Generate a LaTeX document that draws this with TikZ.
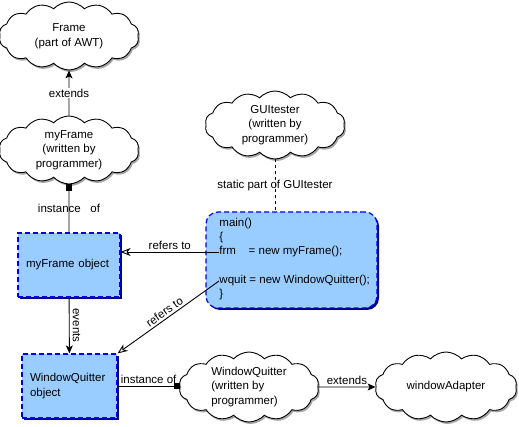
\documentclass[tikz,border=0pt]{standalone}
\usepackage{fontspec}
\setmainfont{Liberation Sans}
\usetikzlibrary{arrows.meta, positioning, shapes.symbols, shadows}
\definecolor{boxblue}{RGB}{153,204,255}
\definecolor{edgeblue}{RGB}{0,0,235}
\definecolor{shadeblue}{RGB}{0,0,128}

\begin{document}
\begin{tikzpicture}[
    x=1pt, y=-1pt,
    line width=0.9pt,
    font=\fontsize{11.5}{14.5}\selectfont,
    classcloud/.style={cloud, cloud puffs=14, cloud puff arc=95, aspect=2, draw, fill=white, minimum width=140pt, minimum height=68pt, inner sep=0pt, align=center, drop shadow={shadow xshift=1.5pt, shadow yshift=-2pt, fill=gray!70, opacity=1}},
    objbox/.style={rectangle, draw=edgeblue, line width=1.2pt, dash pattern=on 5pt off 3pt, fill=boxblue, minimum height=64pt, inner sep=8pt, align=left, drop shadow={shadow xshift=2pt, shadow yshift=-2pt, fill=shadeblue, opacity=1}},
    codeline/.style={anchor=west, inner sep=0pt},
    arrow/.style={-{Stealth[length=8pt, width=7pt, inset=2pt]}},
    refarrow/.style={-{Stealth[open, length=10pt, width=8pt, inset=3pt]}},
]
\useasboundingbox (0,0) rectangle (519,427);

% Clouds
\node[classcloud] (frame) at (69,36) {Frame\\(part of AWT)};
\node[classcloud] (myframe) at (69,150) {myFrame\\(written by\\programmer)};
\node[classcloud] (guitester) at (275,125) {GUItester\\(written by\\programmer)};
\node[classcloud, minimum height=70pt, align=left] (wqcloud) at (249,387) {WindowQuitter\\(written by\\programmer)};
\node[classcloud, minimum width=142pt, minimum height=70pt] (adapter) at (446,387) {windowAdapter};

% Object boxes
\node[objbox, text width=86pt] (myobj) at (69,265) {myFrame object};
\node[objbox, text width=79pt] (wqobj) at (69.5,386) {WindowQuitter\\object};

% main() box
\node[objbox, rounded corners=12pt, minimum width=171pt, minimum height=96pt] (mainbox) at (291.5,260) {};
\node[codeline] (mainline) at (219,224) {main()};
\node[codeline] (brace1) at (219,238) {\{};
\node[codeline] (frmline) at (219,252) {frm\hspace{1.1em}= new myFrame();};
\node[codeline] (wquitline) at (219,281) {wquit = new WindowQuitter();};
\node[codeline] (brace2) at (219,295) {\}};

% Arrows
\draw[arrow] (myframe) -- node[fill=white, inner sep=1pt] {extends} (frame);
\draw[{Square[length=6pt, width=6pt]}-] (myframe) -- node {instance\ \ \ of} (myobj);
\draw[arrow] (myobj) -- node[rotate=-90, anchor=south, inner sep=3pt] {events} (wqobj);
\draw[dashed] (guitester.south) -- node {static part of GUItester} (guitester.south |- mainbox.north);
\draw[refarrow] (frmline.west) -- node[above, inner sep=2pt] {refers to} (frmline.west -| myobj.east);
\draw[refarrow] (wquitline.west) -- node[sloped, above, inner sep=2pt] {refers to} (wqobj.north east);
\draw[-{Square[length=6pt, width=6pt]}] (wqobj.east) -- node[above, inner sep=2pt] {instance of} (wqobj.east -| wqcloud.west);
\draw[arrow] (wqcloud) -- node[above, inner sep=2pt] {extends} (adapter);

\end{tikzpicture}
\end{document}
